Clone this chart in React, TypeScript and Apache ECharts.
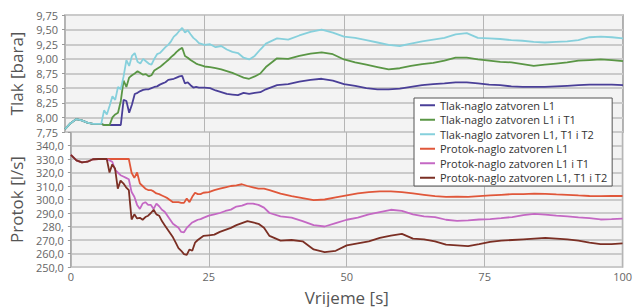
import React, { useEffect, useRef } from "react";
import * as echarts from "echarts";

const time = [0, 1, 2, 3, 4, 5, 6,
  6.5, 7, 7.5, 8, 8.5, 9, 9.5, 10, 10.5, 11, 11.5, 12, 12.5, 13, 13.5, 14, 14.5, 15, 15.5, 16, 16.5, 17, 17.5, 18, 18.5, 19, 19.5, 20, 20.5, 21, 21.5, 22, 22.5, 23, 23.5, 24,
  25, 26, 27, 28, 29, 30, 31, 32, 33, 34, 35, 36,
  38, 40, 42, 44, 46, 48, 50, 52, 54, 56, 58, 60, 62, 64, 66, 68, 70, 72, 74, 76, 78, 80, 82, 84, 86, 88, 90, 92, 94, 96, 98, 100];

const tlakL1 = [7.80, 7.90, 7.97, 7.95, 7.91, 7.89, 7.89,
  7.89, 7.87, 7.87, 7.87, 7.87, 7.87, 7.87, 7.87, 8.30, 8.28, 8.08, 8.22, 8.40, 8.42, 8.45, 8.47, 8.48, 8.48, 8.50, 8.52, 8.53, 8.56, 8.58, 8.60, 8.64, 8.65, 8.66, 8.68, 8.70, 8.71, 8.58, 8.60, 8.55, 8.51, 8.52, 8.51,
  8.51, 8.50, 8.46, 8.43, 8.40, 8.39, 8.38, 8.42, 8.40, 8.42, 8.43, 8.48,
  8.55, 8.57, 8.61, 8.64, 8.66, 8.63, 8.57, 8.54, 8.50, 8.48, 8.48, 8.49, 8.52, 8.55, 8.57, 8.58, 8.60, 8.60, 8.58, 8.56, 8.55, 8.53, 8.52, 8.52, 8.52, 8.53, 8.54, 8.55, 8.56, 8.56, 8.56, 8.55];

const tlakL1T1 = [7.80, 7.90, 7.97, 7.95, 7.91, 7.89, 7.89,
  7.89, 7.87, 7.87, 7.87, 8.00, 8.05, 8.08, 8.28, 8.63, 8.52, 8.68, 8.72, 8.75, 8.79, 8.76, 8.73, 8.74, 8.70, 8.72, 8.80, 8.83, 8.86, 8.90, 8.94, 8.98, 9.03, 9.07, 9.12, 9.16, 9.19, 9.05, 9.02, 8.98, 8.95, 8.92, 8.90,
  8.87, 8.86, 8.84, 8.82, 8.79, 8.76, 8.72, 8.68, 8.66, 8.70, 8.75, 8.86,
  9.01, 9.00, 9.05, 9.09, 9.11, 9.08, 8.99, 8.94, 8.90, 8.86, 8.82, 8.84, 8.88, 8.91, 8.93, 8.97, 9.02, 9.02, 8.99, 8.97, 8.95, 8.94, 8.91, 8.88, 8.90, 8.92, 8.94, 8.97, 8.98, 8.99, 8.98, 8.96];

const tlakL1T1T2 = [7.80, 7.90, 7.97, 7.95, 7.91, 7.89, 7.89,
  7.89, 8.12, 8.05, 8.20, 8.36, 8.30, 8.52, 8.48, 8.70, 8.98, 8.88, 9.05, 9.10, 8.95, 8.92, 9.00, 8.96, 8.92, 8.90, 9.00, 9.08, 9.10, 9.15, 9.20, 9.24, 9.30, 9.38, 9.42, 9.48, 9.53, 9.45, 9.49, 9.42, 9.36, 9.32, 9.27,
  9.24, 9.25, 9.20, 9.22, 9.16, 9.12, 9.10, 9.02, 8.99, 9.05, 9.16, 9.26,
  9.35, 9.33, 9.40, 9.46, 9.50, 9.45, 9.38, 9.36, 9.32, 9.28, 9.24, 9.22, 9.26, 9.30, 9.33, 9.36, 9.42, 9.44, 9.36, 9.35, 9.34, 9.32, 9.31, 9.29, 9.28, 9.29, 9.30, 9.32, 9.37, 9.38, 9.37, 9.35];

const protokL1 = [333, 329, 327.5, 328, 329.8, 330, 330,
  330, 330, 330, 330, 330, 330, 330, 330, 330, 319.8, 316, 320, 312, 310, 308, 307, 307, 306, 304.5, 304, 303, 302, 301, 299.5, 298, 298, 298, 297.5, 297.5, 300.7, 298, 302, 305, 304, 304, 305,
  305.5, 307, 308, 309, 310, 310.5, 311.3, 310, 309, 308, 308, 307,
  304.3, 302.5, 301, 299.5, 300, 301.5, 303, 304.5, 305.5, 306, 306, 305.5, 304.5, 303.5, 302.5, 302, 302.2, 302, 302.5, 303, 303.5, 304, 304, 304.3, 304.2, 303.8, 303.5, 303, 302.6, 302.5, 302.6, 302.6];

const protokL1T1 = [333, 329, 327.5, 328, 329.8, 330, 330,
  330, 329, 328, 322, 320, 318, 317, 316, 315, 305.5, 302, 296, 293, 297, 298, 296, 296, 293, 297, 295, 292.4, 291, 288, 285, 282, 280.5, 279, 276, 275.7, 279, 281, 283, 284, 285, 285.5, 286.4,
  288, 289, 290, 291.5, 292.5, 294.8, 295.5, 297, 297, 296, 294, 290,
  287.5, 286.5, 284, 281, 280, 282.5, 285, 286.5, 289, 290.7, 292.4, 291.5, 289, 287.5, 287, 285, 284.1, 284.5, 285.2, 285.5, 286.2, 287, 288.5, 289.3, 288.8, 288, 287.5, 286.8, 286.2, 285.2, 285.5, 285.9];

const protokL1T1T2 = [333, 329, 327.5, 328, 329.8, 330, 330,
  330, 320, 326, 323, 308, 314, 312, 309, 307, 285.2, 289, 286, 286.4, 285, 287, 288, 290, 292.4, 289, 288, 284, 281, 278, 275, 272, 268, 264, 262, 259.5, 259, 263, 262, 268, 270, 271.5, 273,
  273.5, 274, 276, 277.5, 279, 281, 282.5, 284, 283, 282, 279, 273,
  269.5, 270, 269, 263, 261, 262, 266, 267.5, 269, 271.5, 273.3, 274.5, 271, 270.5, 269, 266.5, 266, 265.5, 267, 268.6, 269.5, 270, 270.5, 271, 271.5, 271, 270.5, 269.5, 268, 266.9, 267, 267.5];

const seriesNames = [
  "Tlak-naglo zatvoren L1",
  "Tlak-naglo zatvoren L1 i T1",
  "Tlak-naglo zatvoren L1, T1 i T2",
  "Protok-naglo zatvoren L1",
  "Protok-naglo zatvoren L1 i T1",
  "Protok-naglo zatvoren L1, T1 i T2",
];
const seriesColors = ["#4a3f98", "#5a9645", "#86d0dc", "#e0573a", "#c468c4", "#7b2f24"];
const seriesValues = [tlakL1, tlakL1T1, tlakL1T1T2, protokL1, protokL1T1, protokL1T1T2];

const FONT = "'Open Sans', 'Noto Sans', sans-serif";

export default function App() {
  const ref = useRef<HTMLDivElement>(null);
  useEffect(() => {
    if (!ref.current) return;
    const chart = echarts.init(ref.current, null, { renderer: "svg" });
    const gridCommon = {
      left: 65,
      right: 12,
      show: true,
      backgroundColor: "#f3f3f3",
      borderColor: "#9a9a9a",
      borderWidth: 1.5,
    };
    const xCommon = {
      type: "value",
      min: 0,
      max: 100,
      interval: 25,
      axisLine: { show: false },
      axisTick: { show: false },
      splitLine: { show: true, lineStyle: { color: "#b5b5b5", width: 1 } },
    };
    const yLabel = { color: "#666", fontSize: 11, lineHeight: 12, fontFamily: FONT, margin: 7 };
    chart.setOption({
      animation: false,
      backgroundColor: "#ffffff",
      grid: [
        { ...gridCommon, top: 15, height: 117 },
        { ...gridCommon, top: 132, height: 139 },
      ],
      xAxis: [
        { ...xCommon, gridIndex: 0, axisLabel: { show: false } },
        {
          ...xCommon,
          gridIndex: 1,
          axisLabel: { color: "#666", fontSize: 11, lineHeight: 10, fontFamily: FONT, margin: 4 },
          name: "Vrijeme [s]",
          nameLocation: "middle",
          nameGap: 21,
          nameTextStyle: { color: "#555", fontSize: 17, lineHeight: 18, fontFamily: FONT },
        },
      ],
      yAxis: [
        {
          type: "value",
          gridIndex: 0,
          min: 7.75,
          max: 9.75,
          interval: 0.25,
          axisLine: { show: false },
          axisTick: { show: true, length: 3, lineStyle: { color: "#999" } },
          splitLine: { lineStyle: { color: "#cacaca", width: 2 } },
          axisLabel: { ...yLabel, formatter: (v: number) => v.toFixed(2).replace(".", ",") },
          name: "Tlak [bara]",
          nameLocation: "middle",
          nameGap: 38,
          nameTextStyle: { color: "#555", fontSize: 17, fontFamily: FONT },
        },
        {
          type: "value",
          gridIndex: 1,
          min: 250,
          max: 350,
          interval: 10,
          axisLine: { show: false },
          axisTick: { show: true, length: 3, lineStyle: { color: "#999" } },
          splitLine: { lineStyle: { color: "#cacaca", width: 2 } },
          axisLabel: {
            ...yLabel,
            formatter: (v: number) => (v === 350 ? "" : v === 280 ? "280," : v.toFixed(1).replace(".", ",")),
          },
          name: "Protok [l/s]",
          nameLocation: "middle",
          nameGap: 38,
          nameTextStyle: { color: "#555", fontSize: 17, fontFamily: FONT },
        },
      ],
      legend: {
        orient: "vertical",
        left: 414,
        top: 98,
        backgroundColor: "#ffffff",
        borderColor: "#555",
        borderWidth: 1,
        borderRadius: 0,
        padding: [0, 5, 1, 6],
        icon: "rect",
        itemWidth: 15,
        itemHeight: 2,
        itemGap: 0,
        textStyle: { color: "#333", fontSize: 11, fontFamily: FONT, lineHeight: 14.5 },
        data: seriesNames,
      },
      series: seriesValues.map((vals, i) => ({
        name: seriesNames[i],
        type: "line",
        xAxisIndex: i < 3 ? 0 : 1,
        yAxisIndex: i < 3 ? 0 : 1,
        symbol: "none",
        color: seriesColors[i],
        lineStyle: { color: seriesColors[i], width: 1.8 },
        data: time.map((t, k) => [t, vals[k]]),
      })),
    });
    return () => chart.dispose();
  }, []);
  return <div ref={ref} style={{ position: "fixed", left: 0, top: 0, width: 635, height: 307 }} />;
}
